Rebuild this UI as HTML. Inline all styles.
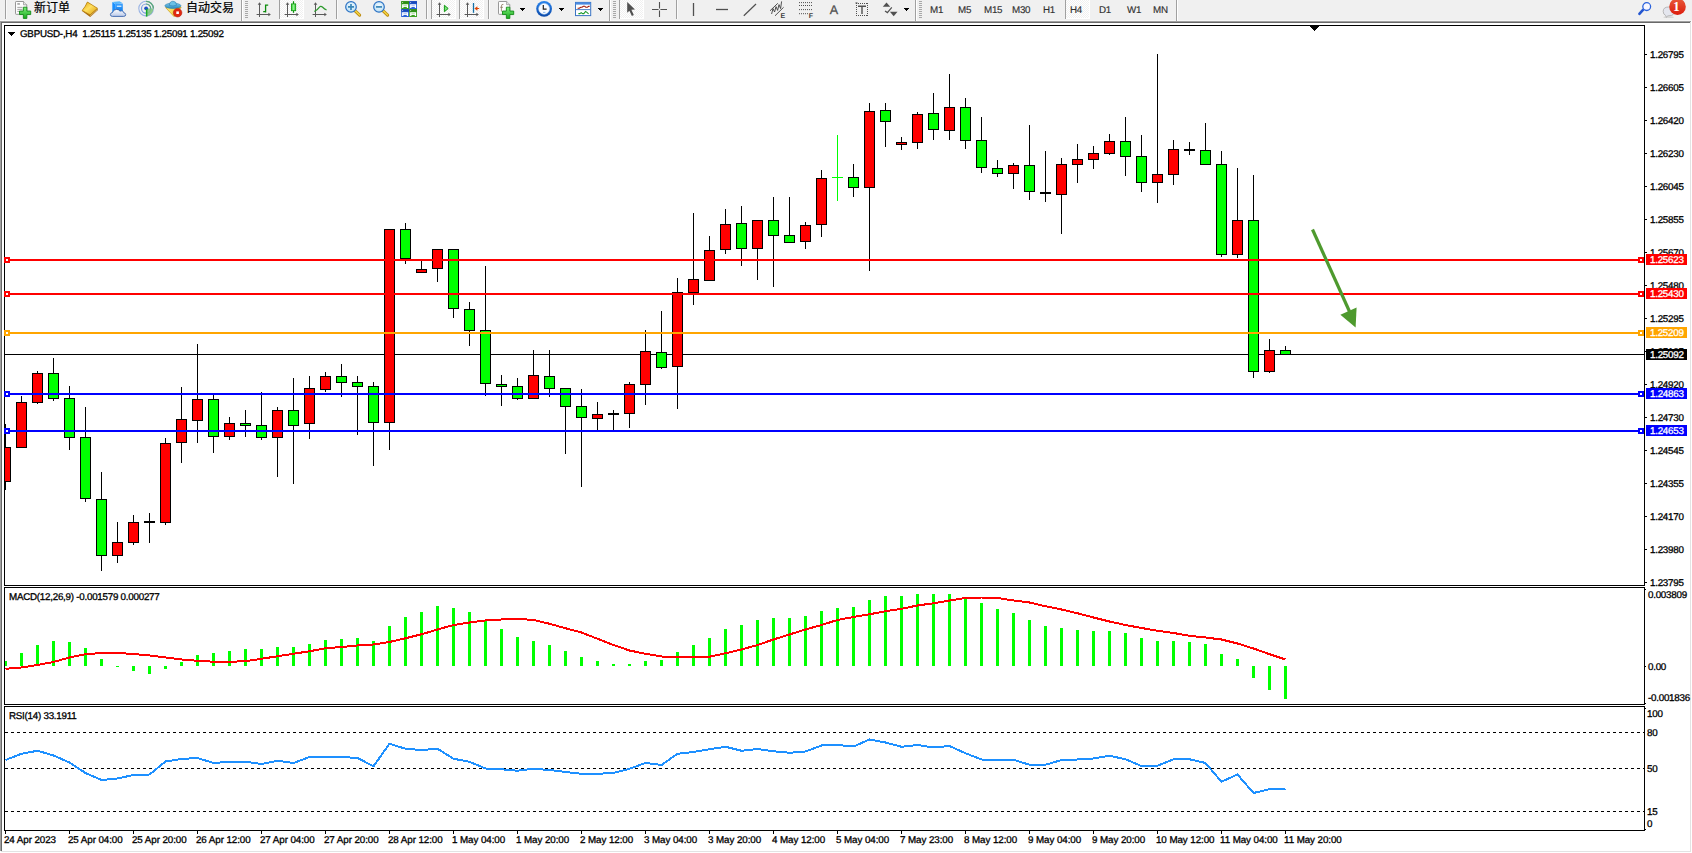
<!DOCTYPE html>
<html><head><meta charset="utf-8"><title>GBPUSD-,H4</title>
<style>
html,body{margin:0;padding:0;background:#fff;}
body{width:1692px;height:853px;position:relative;overflow:hidden;font-family:"Liberation Sans","Noto Sans CJK SC",sans-serif;}
#tb{position:absolute;left:0;top:0;width:1692px;height:21px;background:#f0f0f0;}
.t{position:absolute;white-space:nowrap;color:#000;font-size:9.8px;letter-spacing:-0.25px;text-rendering:geometricPrecision;-webkit-text-stroke:0.3px #000;line-height:11px;height:11px;}
.ax{position:absolute;left:1650px;white-space:nowrap;color:#000;font-size:9.8px;letter-spacing:-0.25px;text-rendering:geometricPrecision;-webkit-text-stroke:0.3px #000;line-height:11px;height:11px;}
.lb{position:absolute;left:1646px;width:41px;height:10px;padding-top:1px;color:#fff;font-size:9.8px;letter-spacing:-0.25px;text-rendering:geometricPrecision;-webkit-text-stroke:0.3px #fff;line-height:11px;white-space:nowrap;text-indent:4px;}
.tm{position:absolute;top:835px;white-space:nowrap;color:#000;font-size:9.8px;letter-spacing:-0.08px;text-rendering:geometricPrecision;-webkit-text-stroke:0.3px #000;line-height:11px;height:11px;}
.tf{position:absolute;top:5px;white-space:nowrap;color:#303030;font-size:9.8px;line-height:11px;height:11px;letter-spacing:-0.25px;text-rendering:geometricPrecision;-webkit-text-stroke:0.15px #303030;}
.ic{position:absolute;white-space:nowrap;color:#404040;font-size:7px;line-height:8px;height:8px;font-weight:bold;text-rendering:geometricPrecision;}
.ia{position:absolute;white-space:nowrap;color:#505050;-webkit-text-stroke:0.3px #505050;font-size:12.5px;line-height:14px;height:14px;text-rendering:geometricPrecision;}
.bd{position:absolute;white-space:nowrap;color:#fff;font-size:13.5px;line-height:13px;height:13px;font-weight:bold;font-family:"Liberation Serif",serif;text-rendering:geometricPrecision;}
.cn{position:absolute;top:0px;white-space:nowrap;color:#000;font-size:12px;-webkit-text-stroke:0.2px #000;line-height:16px;height:16px;font-family:"Liberation Sans","Noto Sans CJK SC",sans-serif;}
svg{position:absolute;left:0;top:0;}
</style></head><body>

<div id="tb"></div>
<div style="position:absolute;left:0;top:20px;width:1692px;height:1px;background:#f7f7f7"></div>
<div style="position:absolute;left:0;top:21px;width:1691px;height:1px;background:#a0a0a0"></div>
<div style="position:absolute;left:1px;top:22px;width:1689px;height:1px;background:#696969"></div>
<div style="position:absolute;left:0;top:21px;width:1px;height:830px;background:#a0a0a0"></div>
<div style="position:absolute;left:1px;top:22px;width:1px;height:829px;background:#696969"></div>
<div style="position:absolute;left:1690px;top:22px;width:1px;height:830px;background:#e3e3e3"></div>
<div style="position:absolute;left:1px;top:851px;width:1690px;height:1px;background:#e3e3e3"></div>
<svg width="1692" height="22" viewBox="0 0 1692 22" shape-rendering="crispEdges">
<defs><pattern id="ck" width="2" height="2" patternUnits="userSpaceOnUse"><rect width="2" height="2" fill="#ffffff"/><rect x="0" y="0" width="1" height="1" fill="#f0f0f0"/><rect x="1" y="1" width="1" height="1" fill="#f0f0f0"/></pattern></defs>
<rect x="280" y="0" width="24" height="19" fill="url(#ck)"/>
<rect x="279" y="0" width="1" height="19" fill="#a0a0a0"/>
<rect x="303" y="0" width="1" height="19" fill="#ffffff"/>
<rect x="280" y="18" width="24" height="1" fill="#ffffff"/>
<rect x="432" y="0" width="24" height="19" fill="url(#ck)"/>
<rect x="431" y="0" width="1" height="19" fill="#a0a0a0"/>
<rect x="455" y="0" width="1" height="19" fill="#ffffff"/>
<rect x="432" y="18" width="24" height="1" fill="#ffffff"/>
<rect x="460" y="0" width="24" height="19" fill="url(#ck)"/>
<rect x="459" y="0" width="1" height="19" fill="#a0a0a0"/>
<rect x="483" y="0" width="1" height="19" fill="#ffffff"/>
<rect x="460" y="18" width="24" height="1" fill="#ffffff"/>
<rect x="620" y="0" width="24" height="19" fill="url(#ck)"/>
<rect x="619" y="0" width="1" height="19" fill="#a0a0a0"/>
<rect x="643" y="0" width="1" height="19" fill="#ffffff"/>
<rect x="620" y="18" width="24" height="1" fill="#ffffff"/>
<rect x="1066" y="0" width="24" height="19" fill="url(#ck)"/>
<rect x="1065" y="0" width="1" height="19" fill="#a0a0a0"/>
<rect x="1089" y="0" width="1" height="19" fill="#ffffff"/>
<rect x="1066" y="18" width="24" height="1" fill="#ffffff"/>
<rect x="241" y="0" width="1" height="21" fill="#a0a0a0"/><rect x="242" y="0" width="1" height="21" fill="#ffffff"/>
<rect x="609" y="0" width="1" height="21" fill="#a0a0a0"/><rect x="610" y="0" width="1" height="21" fill="#ffffff"/>
<rect x="915" y="0" width="1" height="21" fill="#a0a0a0"/><rect x="916" y="0" width="1" height="21" fill="#ffffff"/>
<rect x="1176" y="0" width="1" height="21" fill="#a0a0a0"/><rect x="1177" y="0" width="1" height="21" fill="#ffffff"/>
<rect x="5" y="0" width="1" height="19" fill="#a0a0a0"/><rect x="6" y="0" width="1" height="19" fill="#fafafa"/>
<rect x="336" y="0" width="1" height="19" fill="#a0a0a0"/><rect x="337" y="0" width="1" height="19" fill="#fafafa"/>
<rect x="426" y="0" width="1" height="19" fill="#a0a0a0"/><rect x="427" y="0" width="1" height="19" fill="#fafafa"/>
<rect x="488" y="0" width="1" height="19" fill="#a0a0a0"/><rect x="489" y="0" width="1" height="19" fill="#fafafa"/>
<rect x="676" y="0" width="1" height="19" fill="#a0a0a0"/><rect x="677" y="0" width="1" height="19" fill="#fafafa"/>
<rect x="245" y="1" width="3" height="1" fill="#a8a8a8"/>
<rect x="245" y="3" width="3" height="1" fill="#a8a8a8"/>
<rect x="245" y="5" width="3" height="1" fill="#a8a8a8"/>
<rect x="245" y="7" width="3" height="1" fill="#a8a8a8"/>
<rect x="245" y="9" width="3" height="1" fill="#a8a8a8"/>
<rect x="245" y="11" width="3" height="1" fill="#a8a8a8"/>
<rect x="245" y="13" width="3" height="1" fill="#a8a8a8"/>
<rect x="245" y="15" width="3" height="1" fill="#a8a8a8"/>
<rect x="245" y="17" width="3" height="1" fill="#a8a8a8"/>
<rect x="613" y="1" width="3" height="1" fill="#a8a8a8"/>
<rect x="613" y="3" width="3" height="1" fill="#a8a8a8"/>
<rect x="613" y="5" width="3" height="1" fill="#a8a8a8"/>
<rect x="613" y="7" width="3" height="1" fill="#a8a8a8"/>
<rect x="613" y="9" width="3" height="1" fill="#a8a8a8"/>
<rect x="613" y="11" width="3" height="1" fill="#a8a8a8"/>
<rect x="613" y="13" width="3" height="1" fill="#a8a8a8"/>
<rect x="613" y="15" width="3" height="1" fill="#a8a8a8"/>
<rect x="613" y="17" width="3" height="1" fill="#a8a8a8"/>
<rect x="919" y="1" width="3" height="1" fill="#a8a8a8"/>
<rect x="919" y="3" width="3" height="1" fill="#a8a8a8"/>
<rect x="919" y="5" width="3" height="1" fill="#a8a8a8"/>
<rect x="919" y="7" width="3" height="1" fill="#a8a8a8"/>
<rect x="919" y="9" width="3" height="1" fill="#a8a8a8"/>
<rect x="919" y="11" width="3" height="1" fill="#a8a8a8"/>
<rect x="919" y="13" width="3" height="1" fill="#a8a8a8"/>
<rect x="919" y="15" width="3" height="1" fill="#a8a8a8"/>
<rect x="919" y="17" width="3" height="1" fill="#a8a8a8"/>
<rect x="520" y="8" width="5" height="1" fill="#000"/>
<rect x="521" y="9" width="3" height="1" fill="#000"/>
<rect x="522" y="10" width="1" height="1" fill="#000"/>
<rect x="559" y="8" width="5" height="1" fill="#000"/>
<rect x="560" y="9" width="3" height="1" fill="#000"/>
<rect x="561" y="10" width="1" height="1" fill="#000"/>
<rect x="598" y="8" width="5" height="1" fill="#000"/>
<rect x="599" y="9" width="3" height="1" fill="#000"/>
<rect x="600" y="10" width="1" height="1" fill="#000"/>
<rect x="904" y="8" width="5" height="1" fill="#000"/>
<rect x="905" y="9" width="3" height="1" fill="#000"/>
<rect x="906" y="10" width="1" height="1" fill="#000"/>
</svg>
<svg width="1692" height="22" viewBox="0 0 1692 22">
<defs>
<linearGradient id="gpl" x1="0" y1="0" x2="0" y2="1"><stop offset="0" stop-color="#7df07a"/><stop offset="1" stop-color="#18a81c"/></linearGradient>
<linearGradient id="ggold" x1="0" y1="0" x2="1" y2="1"><stop offset="0" stop-color="#e0a40c"/><stop offset="0.45" stop-color="#ffe060"/><stop offset="1" stop-color="#d89808"/></linearGradient>
<linearGradient id="gblue" x1="0" y1="0" x2="0" y2="1"><stop offset="0" stop-color="#3aa0ff"/><stop offset="1" stop-color="#0a78e8"/></linearGradient>
<linearGradient id="gcloud" x1="0" y1="0" x2="0" y2="1"><stop offset="0" stop-color="#ffffff"/><stop offset="1" stop-color="#b8c8e8"/></linearGradient>
<linearGradient id="gred" x1="0" y1="0" x2="0" y2="1"><stop offset="0" stop-color="#e85a3a"/><stop offset="1" stop-color="#dc1c0c"/></linearGradient>
<linearGradient id="ghat" x1="0" y1="0" x2="0" y2="1"><stop offset="0" stop-color="#7cc8e8"/><stop offset="1" stop-color="#2a8ac0"/></linearGradient>
<linearGradient id="gface" x1="0" y1="0" x2="1" y2="0"><stop offset="0" stop-color="#fff080"/><stop offset="1" stop-color="#e8b820"/></linearGradient>
<radialGradient id="glens" cx="0.5" cy="0.4" r="0.6"><stop offset="0" stop-color="#f4fbff"/><stop offset="1" stop-color="#b8def4"/></radialGradient>
<linearGradient id="gclk" x1="0" y1="0" x2="0" y2="1"><stop offset="0" stop-color="#2a86f0"/><stop offset="1" stop-color="#0a48a8"/></linearGradient>
<linearGradient id="gcan" x1="0" y1="0" x2="1" y2="0"><stop offset="0" stop-color="#30c030"/><stop offset="0.5" stop-color="#90f890"/><stop offset="1" stop-color="#30c030"/></linearGradient>
</defs>
<path d="M15.5,2.2Q15.5,1.5 16.2,1.5H23.5L26.8,4.8V13.6Q26.8,14.3 26.1,14.3H16.2Q15.5,14.3 15.5,13.6Z" fill="#fdfdfd" stroke="#8c8c8c" stroke-width="0.9"/>
<path d="M23.5,1.5V4.8H26.8" fill="#e6e6e6" stroke="#8c8c8c" stroke-width="0.7"/>
<rect x="17.3" y="3.2" width="2.6" height="1.5" fill="#9a9a9a"/>
<rect x="17.3" y="6.9" width="5.2" height="0.8" fill="#8e8e8e"/>
<rect x="17.3" y="8.9" width="5.2" height="0.8" fill="#8e8e8e"/>
<rect x="17.3" y="10.9" width="5.2" height="0.8" fill="#8e8e8e"/>
<path d="M23.35,7.200000000000001H26.85V11.05H30.700000000000003V14.55H26.85V18.4H23.35V14.55H19.5V11.05H23.35Z" fill="url(#gpl)" stroke="#138a16" stroke-width="0.9" stroke-linejoin="round"/>
<path d="M87.4,2Q85.6,6.4 82,10.9L90.2,17L98,9.9L97.4,8.4Z" fill="#a86a0c"/>
<path d="M87.4,2L97.5,8.3L90.1,14.9L82.2,10.4Q85.6,6.4 87.4,2Z" fill="url(#ggold)" stroke="#b47c0c" stroke-width="0.7" stroke-linejoin="round"/>
<path d="M97.4,9.5L90.2,15.9" stroke="#f0d890" stroke-width="0.7" fill="none"/>
<path d="M112.3,2L115.2,4V13H112.3Z" fill="#1a90ff"/>
<path d="M112.3,2L119.5,1.2L122.8,3.2L115.2,4Z" fill="#58b8ff"/>
<rect x="115.2" y="3.6" width="7.6" height="9.5" fill="url(#gblue)"/>
<rect x="116.8" y="5.6" width="4.6" height="1.3" fill="#d8eeff"/>
<path d="M112.4,16.4Q110.3,16.4 110.4,14.4Q110.5,12.7 112.6,12.4Q113.2,9.4 116.6,9.4Q119,9.4 120,11.2Q121,10.6 122.2,10.9Q123.8,11.4 123.8,12.8Q125.7,13 125.7,14.7Q125.7,16.4 123.6,16.4Z" fill="url(#gcloud)" stroke="#3a64ac" stroke-width="0.9"/>
<circle cx="146.1" cy="8.6" r="7.3" fill="none" stroke="#9ab4e4" stroke-width="1.1"/>
<circle cx="146.1" cy="8.6" r="4.6" fill="none" stroke="#7a9ce0" stroke-width="1.2"/>
<path d="M146.1,8.6L153.4,8.6A7.3,7.3 0 0 1 146.6,15.9Z" fill="#7cc47c" opacity="0.85"/>
<path d="M146.1,1.3A7.3,7.3 0 0 1 153.4,8.6" fill="none" stroke="#5aa878" stroke-width="1.3"/>
<path d="M146.1,4A4.6,4.6 0 0 1 150.7,8.6" fill="none" stroke="#5aa878" stroke-width="1.2"/>
<circle cx="146.1" cy="8.3" r="1.9" fill="#1c50c8"/>
<rect x="145.9" y="8.8" width="1.5" height="7.8" fill="#18a828"/>
<path d="M165.6,7.6L181.2,7.2L177.5,12L174.2,16.7Z" fill="url(#gface)" stroke="#c89810" stroke-width="0.7" stroke-linejoin="round"/>
<ellipse cx="172.9" cy="5.8" rx="8" ry="2.7" fill="url(#ghat)" stroke="#2a80b0" stroke-width="0.6"/>
<path d="M169.4,5.4Q169.6,1.2 173,1.2Q176.3,1.2 176.6,5.2Q173,6.6 169.4,5.4Z" fill="#6cc0e4" stroke="#2a80b0" stroke-width="0.6"/>
<circle cx="177.6" cy="12.7" r="4.3" fill="#e02810" stroke="#b01808" stroke-width="0.5"/>
<rect x="176.3" y="11.4" width="2.6" height="2.6" fill="#fff"/>
<path d="M259.5,3.4V17M256.6,14.5H269" stroke="#5a5a5a" stroke-width="1" fill="none"/>
<path d="M259.5,2.2L257.7,4.8H261.3Z" fill="#5a5a5a"/>
<path d="M270.8,14.5L268.4,12.7V16.3Z" fill="#5a5a5a"/>
<path d="M265.6,4.5V12.5M265.6,5.2H268.2M263.2,11.6H265.6" stroke="#0c8c0c" stroke-width="1.3" fill="none"/>
<path d="M287.5,3.4V17M284.6,14.5H297" stroke="#5a5a5a" stroke-width="1" fill="none"/>
<path d="M287.5,2.2L285.7,4.8H289.3Z" fill="#5a5a5a"/>
<path d="M298.8,14.5L296.4,12.7V16.3Z" fill="#5a5a5a"/>
<path d="M293.5,1.2V12.8" stroke="#0c8c0c" stroke-width="1.2"/>
<rect x="291.4" y="3.9" width="4.3" height="6.8" fill="url(#gcan)" stroke="#0c9c0c" stroke-width="0.8"/>
<path d="M315.5,3.4V17M312.6,14.5H325" stroke="#5a5a5a" stroke-width="1" fill="none"/>
<path d="M315.5,2.2L313.7,4.8H317.3Z" fill="#5a5a5a"/>
<path d="M326.8,14.5L324.4,12.7V16.3Z" fill="#5a5a5a"/>
<path d="M314.3,11.6Q317.5,9.8 319,7.6Q320.6,5.4 322.4,7Q324.5,9.2 326.6,10" stroke="#2c9a2c" stroke-width="1.2" fill="none"/>
<path d="M354.6,10.4L359.6,15.2" stroke="#b8860b" stroke-width="3.1" stroke-linecap="round"/>
<path d="M354.8,10.4L359.5,14.9" stroke="#f0d040" stroke-width="1.6" stroke-linecap="round"/>
<circle cx="351" cy="6.9" r="5.3" fill="url(#glens)" stroke="#2c72c4" stroke-width="1.2"/>
<path d="M348,6.9H354M351,3.9V9.9" stroke="#3a86b8" stroke-width="1.7"/>
<path d="M382.6,10.4L387.6,15.2" stroke="#b8860b" stroke-width="3.1" stroke-linecap="round"/>
<path d="M382.8,10.4L387.5,14.9" stroke="#f0d040" stroke-width="1.6" stroke-linecap="round"/>
<circle cx="379" cy="6.9" r="5.3" fill="url(#glens)" stroke="#2c72c4" stroke-width="1.2"/>
<path d="M376,6.9H382" stroke="#3a86b8" stroke-width="1.7"/>
<rect x="401.2" y="1.2" width="7.8" height="7.8" fill="#3aa020"/>
<rect x="401.2" y="1.2" width="7.8" height="2.4" fill="#2c8c14"/>
<path d="M402.09999999999997,8.1V4.3H408.09999999999997V8.1H406.8V7.1000000000000005H403.4V8.1Z" fill="#fff"/>
<rect x="403.4" y="5.4" width="3.4" height="0.8" fill="#3aa020" opacity="0.55"/>
<rect x="402.09999999999997" y="2.0" width="1" height="0.9" fill="#ffffff" opacity="0.7"/>
<rect x="409.2" y="1.2" width="7.8" height="7.8" fill="#2a62d8"/>
<rect x="409.2" y="1.2" width="7.8" height="2.4" fill="#1848b8"/>
<path d="M410.09999999999997,8.1V4.3H416.09999999999997V8.1H414.8V7.1000000000000005H411.4V8.1Z" fill="#fff"/>
<rect x="411.4" y="5.4" width="3.4" height="0.8" fill="#2a62d8" opacity="0.55"/>
<rect x="410.09999999999997" y="2.0" width="1" height="0.9" fill="#ffffff" opacity="0.7"/>
<rect x="401.2" y="9.2" width="7.8" height="7.8" fill="#2a62d8"/>
<rect x="401.2" y="9.2" width="7.8" height="2.4" fill="#1848b8"/>
<path d="M402.09999999999997,16.1V12.299999999999999H408.09999999999997V16.1H406.8V15.1H403.4V16.1Z" fill="#fff"/>
<rect x="403.4" y="13.399999999999999" width="3.4" height="0.8" fill="#2a62d8" opacity="0.55"/>
<rect x="402.09999999999997" y="10.0" width="1" height="0.9" fill="#ffffff" opacity="0.7"/>
<rect x="409.2" y="9.2" width="7.8" height="7.8" fill="#3aa020"/>
<rect x="409.2" y="9.2" width="7.8" height="2.4" fill="#2c8c14"/>
<path d="M410.09999999999997,16.1V12.299999999999999H416.09999999999997V16.1H414.8V15.1H411.4V16.1Z" fill="#fff"/>
<rect x="411.4" y="13.399999999999999" width="3.4" height="0.8" fill="#3aa020" opacity="0.55"/>
<rect x="410.09999999999997" y="10.0" width="1" height="0.9" fill="#ffffff" opacity="0.7"/>
<path d="M439.5,3.4V17M436.6,14.5H449" stroke="#5a5a5a" stroke-width="1" fill="none"/>
<path d="M439.5,2.2L437.7,4.8H441.3Z" fill="#5a5a5a"/>
<path d="M450.8,14.5L448.4,12.7V16.3Z" fill="#5a5a5a"/>
<path d="M444.4,5.3V11.7L448.2,8.5Z" fill="#7ae07a" stroke="#129a12" stroke-width="1"/>
<path d="M467.5,3.4V17M464.6,14.5H477" stroke="#5a5a5a" stroke-width="1" fill="none"/>
<path d="M467.5,2.2L465.7,4.8H469.3Z" fill="#5a5a5a"/>
<path d="M478.8,14.5L476.4,12.7V16.3Z" fill="#5a5a5a"/>
<path d="M473.5,3V12.8" stroke="#1470a8" stroke-width="1.3"/>
<path d="M474.4,8.5L477.4,6.2V7.9H479.2V9.1H477.4V10.8Z" fill="#e04808"/>
<path d="M498.5,2.2Q498.5,1.5 499.2,1.5H506.6L509.8,4.7V13.6Q509.8,14.3 509.1,14.3H499.2Q498.5,14.3 498.5,13.6Z" fill="#fdfdfd" stroke="#8c8c8c" stroke-width="0.9"/>
<path d="M506.6,1.5V4.7H509.8" fill="#e6e6e6" stroke="#8c8c8c" stroke-width="0.7"/>
<path d="M503.4,4.4Q501.4,4 501.4,6V11.5M500.2,7.3H503" stroke="#8a7a60" stroke-width="0.8" fill="none"/>
<path d="M506.35,7.200000000000001H509.85V11.05H513.7V14.55H509.85V18.4H506.35V14.55H502.5V11.05H506.35Z" fill="url(#gpl)" stroke="#138a16" stroke-width="0.9" stroke-linejoin="round"/>
<circle cx="544.1" cy="8.8" r="7.9" fill="url(#gclk)"/>
<circle cx="544.1" cy="8.8" r="5.4" fill="#f8fbff" stroke="#c8dcf0" stroke-width="0.6"/>
<path d="M543.3,5V9.2H546.6" stroke="#202020" stroke-width="1.2" fill="none"/>
<path d="M543,12.4H545.4" stroke="#6aa8f0" stroke-width="0.8"/>
<rect x="575.5" y="2.4" width="15.2" height="13.2" fill="#ffffff" stroke="#3a74c4" stroke-width="1"/>
<rect x="575.5" y="2.4" width="15.2" height="2.2" fill="#4a8ae0"/>
<path d="M576,9.6H590.5" stroke="#3a74c4" stroke-width="0.9"/>
<path d="M577.6,8.3H579.2L580.8,7.2H582L583.4,6.2H584.6L585.8,7.2H587.4L588.6,6.4H589.6" stroke="#a01808" stroke-width="1.1" fill="none"/>
<path d="M578.4,13.6H579.8L581.2,12.6L582.6,13.6H583.8L585.6,11.4L587.2,12.6L588.6,13.8" stroke="#189828" stroke-width="1.1" fill="none"/>
<path d="M627.2,2V12.7L629.4,10.7L631.9,15.9L633.8,15.1L631.4,9.8L635,9.6Z" fill="#505050"/>
<path d="M652,9.5H658.6M660.4,9.5H667M659.5,2V8.6M659.5,10.4V17" stroke="#505050" stroke-width="1.1" fill="none"/>
<path d="M693.5,3V16" stroke="#505050" stroke-width="1.3"/>
<path d="M716,9.5H728" stroke="#505050" stroke-width="1.3"/>
<path d="M743.8,15.8L756,4" stroke="#505050" stroke-width="1.2"/>
<path d="M770,10.8L777.8,3.3M775,15.8L783.6,7.3" stroke="#505050" stroke-width="1" fill="none"/>
<path d="M771.6,14L773,8.6L774.6,12L776,6.6L777.6,10.4L779,4.6L780.6,8.6L781.6,1.4" stroke="#404040" stroke-width="0.9" fill="none"/>
<path d="M799,2.6H812.4" stroke="#505050" stroke-width="1" stroke-dasharray="1 1"/>
<path d="M799,5.5H812.4" stroke="#505050" stroke-width="1" stroke-dasharray="1 1"/>
<path d="M799,9.6H812.4" stroke="#505050" stroke-width="1" stroke-dasharray="1 1"/>
<path d="M799,13.7H808" stroke="#505050" stroke-width="1" stroke-dasharray="1 1"/>
<path d="M856,3.5H868M856,15.5H868M856.5,3V16M867.5,3V16" fill="none" stroke="#505050" stroke-width="1" stroke-dasharray="1 1" shape-rendering="crispEdges"/>
<rect x="855.5" y="2.4" width="2" height="1.2" fill="#505050"/>
<path d="M858,6.3H866M862,6.3V14" stroke="#505050" stroke-width="1.4" fill="none"/>
<path d="M886.5,2.6L882.8,6.7H890.2Z" fill="#505050"/>
<path d="M893.7,16.3L889.9,11.7H897.5Z" fill="#505050"/>
<path d="M885,11L887.4,12.6L891.8,7.4" stroke="#505050" stroke-width="1.2" fill="none"/>
<path d="M1643,9.8L1639.4,13.8" stroke="#2456d0" stroke-width="2.6" stroke-linecap="round"/>
<circle cx="1646.7" cy="6.6" r="3.9" fill="#f6f6ff" stroke="#2a62dc" stroke-width="1.3"/>
<ellipse cx="1668.6" cy="17.2" rx="5.2" ry="0.9" fill="#000" opacity="0.10"/>
<path d="M1663.2,11.4Q1663.2,7 1668.6,7Q1674.4,7 1674.4,11.4Q1674.4,15.8 1668.8,15.8L1667.6,15.8L1666.4,17.4L1665.6,15.4Q1663.2,14.4 1663.2,11.4Z" fill="#e4e6ee" stroke="#a8a8a8" stroke-width="0.8"/>
<circle cx="1677.5" cy="6.7" r="8.3" fill="url(#gred)"/>
</svg>
<div class="cn" style="left:34px;top:0px;">新订单</div>
<div class="cn" style="left:186px;top:0px;">自动交易</div>
<div class="tf" style="left:930px">M1</div>
<div class="tf" style="left:958px">M5</div>
<div class="tf" style="left:984px">M15</div>
<div class="tf" style="left:1012px">M30</div>
<div class="tf" style="left:1043px">H1</div>
<div class="tf" style="left:1070px">H4</div>
<div class="tf" style="left:1099px">D1</div>
<div class="tf" style="left:1127px">W1</div>
<div class="tf" style="left:1153px">MN</div>
<div class="ic" style="left:780.5px;top:12.5px;">E</div>
<div class="ic" style="left:808.8px;top:12.5px;">F</div>
<div class="ia" style="left:829.7px;top:3px;">A</div>
<div class="bd" style="left:1673px;top:0px;">1</div>
<svg width="1692" height="853" viewBox="0 0 1692 853" shape-rendering="crispEdges">
<rect x="4.5" y="25.5" width="1640" height="560" fill="none" stroke="#000" stroke-width="1"/>
<rect x="4.5" y="587.5" width="1640" height="117" fill="none" stroke="#000" stroke-width="1"/>
<rect x="4.5" y="706.5" width="1640" height="124" fill="none" stroke="#000" stroke-width="1"/>
<rect x="1645" y="54" width="2" height="1" fill="#000"/>
<rect x="1645" y="87" width="2" height="1" fill="#000"/>
<rect x="1645" y="120" width="2" height="1" fill="#000"/>
<rect x="1645" y="153" width="2" height="1" fill="#000"/>
<rect x="1645" y="186" width="2" height="1" fill="#000"/>
<rect x="1645" y="219" width="2" height="1" fill="#000"/>
<rect x="1645" y="252" width="2" height="1" fill="#000"/>
<rect x="1645" y="285" width="2" height="1" fill="#000"/>
<rect x="1645" y="318" width="2" height="1" fill="#000"/>
<rect x="1645" y="351" width="2" height="1" fill="#000"/>
<rect x="1645" y="384" width="2" height="1" fill="#000"/>
<rect x="1645" y="417" width="2" height="1" fill="#000"/>
<rect x="1645" y="450" width="2" height="1" fill="#000"/>
<rect x="1645" y="483" width="2" height="1" fill="#000"/>
<rect x="1645" y="516" width="2" height="1" fill="#000"/>
<rect x="1645" y="549" width="2" height="1" fill="#000"/>
<rect x="1645" y="582" width="2" height="1" fill="#000"/>
<rect x="1645" y="589" width="1" height="1" fill="#000"/>
<rect x="1645" y="666" width="1" height="1" fill="#000"/>
<rect x="1645" y="703" width="1" height="1" fill="#000"/>
<rect x="1645" y="708" width="1" height="1" fill="#000"/>
<rect x="1645" y="829" width="1" height="1" fill="#000"/>
<rect x="1310" y="26" width="9" height="1" fill="#000"/>
<rect x="1311" y="27" width="7" height="1" fill="#000"/>
<rect x="1312" y="28" width="5" height="1" fill="#000"/>
<rect x="1313" y="29" width="3" height="1" fill="#000"/>
<rect x="1314" y="30" width="1" height="1" fill="#000"/>
<rect x="8" y="32" width="7" height="1" fill="#000"/>
<rect x="9" y="33" width="5" height="1" fill="#000"/>
<rect x="10" y="34" width="3" height="1" fill="#000"/>
<rect x="11" y="35" width="1" height="1" fill="#000"/>
<rect x="5" y="354" width="1639" height="1" fill="#000"/>
<rect x="5" y="424" width="1" height="66" fill="#000"/>
<rect x="5" y="447" width="6" height="35" fill="#000"/>
<rect x="5" y="448" width="5" height="33" fill="#ff0000"/>
<rect x="21" y="396" width="1" height="52" fill="#000"/>
<rect x="16" y="402" width="11" height="46" fill="#000"/>
<rect x="17" y="403" width="9" height="44" fill="#ff0000"/>
<rect x="37" y="371" width="1" height="33" fill="#000"/>
<rect x="32" y="373" width="11" height="30" fill="#000"/>
<rect x="33" y="374" width="9" height="28" fill="#ff0000"/>
<rect x="53" y="358" width="1" height="43" fill="#000"/>
<rect x="48" y="373" width="11" height="26" fill="#000"/>
<rect x="49" y="374" width="9" height="24" fill="#00ff00"/>
<rect x="69" y="386" width="1" height="64" fill="#000"/>
<rect x="64" y="398" width="11" height="40" fill="#000"/>
<rect x="65" y="399" width="9" height="38" fill="#00ff00"/>
<rect x="85" y="407" width="1" height="95" fill="#000"/>
<rect x="80" y="437" width="11" height="62" fill="#000"/>
<rect x="81" y="438" width="9" height="60" fill="#00ff00"/>
<rect x="101" y="472" width="1" height="99" fill="#000"/>
<rect x="96" y="499" width="11" height="57" fill="#000"/>
<rect x="97" y="500" width="9" height="55" fill="#00ff00"/>
<rect x="117" y="522" width="1" height="41" fill="#000"/>
<rect x="112" y="542" width="11" height="14" fill="#000"/>
<rect x="113" y="543" width="9" height="12" fill="#ff0000"/>
<rect x="133" y="515" width="1" height="30" fill="#000"/>
<rect x="128" y="522" width="11" height="21" fill="#000"/>
<rect x="129" y="523" width="9" height="19" fill="#ff0000"/>
<rect x="149" y="513" width="1" height="30" fill="#000"/>
<rect x="144" y="521" width="11" height="2" fill="#000"/>
<rect x="165" y="438" width="1" height="87" fill="#000"/>
<rect x="160" y="443" width="11" height="80" fill="#000"/>
<rect x="161" y="444" width="9" height="78" fill="#ff0000"/>
<rect x="181" y="387" width="1" height="76" fill="#000"/>
<rect x="176" y="419" width="11" height="24" fill="#000"/>
<rect x="177" y="420" width="9" height="22" fill="#ff0000"/>
<rect x="197" y="344" width="1" height="99" fill="#000"/>
<rect x="192" y="399" width="11" height="22" fill="#000"/>
<rect x="193" y="400" width="9" height="20" fill="#ff0000"/>
<rect x="213" y="395" width="1" height="58" fill="#000"/>
<rect x="208" y="399" width="11" height="38" fill="#000"/>
<rect x="209" y="400" width="9" height="36" fill="#00ff00"/>
<rect x="229" y="417" width="1" height="23" fill="#000"/>
<rect x="224" y="423" width="11" height="14" fill="#000"/>
<rect x="225" y="424" width="9" height="12" fill="#ff0000"/>
<rect x="245" y="410" width="1" height="27" fill="#000"/>
<rect x="240" y="423" width="11" height="3" fill="#000"/>
<rect x="241" y="424" width="9" height="1" fill="#00ff00"/>
<rect x="261" y="392" width="1" height="48" fill="#000"/>
<rect x="256" y="425" width="11" height="13" fill="#000"/>
<rect x="257" y="426" width="9" height="11" fill="#00ff00"/>
<rect x="277" y="407" width="1" height="70" fill="#000"/>
<rect x="272" y="410" width="11" height="28" fill="#000"/>
<rect x="273" y="411" width="9" height="26" fill="#ff0000"/>
<rect x="293" y="378" width="1" height="106" fill="#000"/>
<rect x="288" y="410" width="11" height="16" fill="#000"/>
<rect x="289" y="411" width="9" height="14" fill="#00ff00"/>
<rect x="309" y="376" width="1" height="63" fill="#000"/>
<rect x="304" y="388" width="11" height="36" fill="#000"/>
<rect x="305" y="389" width="9" height="34" fill="#ff0000"/>
<rect x="325" y="372" width="1" height="20" fill="#000"/>
<rect x="320" y="376" width="11" height="14" fill="#000"/>
<rect x="321" y="377" width="9" height="12" fill="#ff0000"/>
<rect x="341" y="364" width="1" height="33" fill="#000"/>
<rect x="336" y="376" width="11" height="7" fill="#000"/>
<rect x="337" y="377" width="9" height="5" fill="#00ff00"/>
<rect x="357" y="376" width="1" height="59" fill="#000"/>
<rect x="352" y="382" width="11" height="5" fill="#000"/>
<rect x="353" y="383" width="9" height="3" fill="#00ff00"/>
<rect x="373" y="382" width="1" height="84" fill="#000"/>
<rect x="368" y="386" width="11" height="37" fill="#000"/>
<rect x="369" y="387" width="9" height="35" fill="#00ff00"/>
<rect x="389" y="229" width="1" height="221" fill="#000"/>
<rect x="384" y="229" width="11" height="194" fill="#000"/>
<rect x="385" y="230" width="9" height="192" fill="#ff0000"/>
<rect x="405" y="223" width="1" height="41" fill="#000"/>
<rect x="400" y="229" width="11" height="30" fill="#000"/>
<rect x="401" y="230" width="9" height="28" fill="#00ff00"/>
<rect x="421" y="261" width="1" height="12" fill="#000"/>
<rect x="416" y="269" width="11" height="4" fill="#000"/>
<rect x="417" y="270" width="9" height="2" fill="#ff0000"/>
<rect x="437" y="249" width="1" height="33" fill="#000"/>
<rect x="432" y="249" width="11" height="20" fill="#000"/>
<rect x="433" y="250" width="9" height="18" fill="#ff0000"/>
<rect x="453" y="249" width="1" height="69" fill="#000"/>
<rect x="448" y="249" width="11" height="60" fill="#000"/>
<rect x="449" y="250" width="9" height="58" fill="#00ff00"/>
<rect x="469" y="302" width="1" height="44" fill="#000"/>
<rect x="464" y="309" width="11" height="22" fill="#000"/>
<rect x="465" y="310" width="9" height="20" fill="#00ff00"/>
<rect x="485" y="266" width="1" height="130" fill="#000"/>
<rect x="480" y="330" width="11" height="54" fill="#000"/>
<rect x="481" y="331" width="9" height="52" fill="#00ff00"/>
<rect x="501" y="375" width="1" height="31" fill="#000"/>
<rect x="496" y="384" width="11" height="3" fill="#000"/>
<rect x="497" y="385" width="9" height="1" fill="#00ff00"/>
<rect x="517" y="378" width="1" height="22" fill="#000"/>
<rect x="512" y="386" width="11" height="13" fill="#000"/>
<rect x="513" y="387" width="9" height="11" fill="#00ff00"/>
<rect x="533" y="350" width="1" height="49" fill="#000"/>
<rect x="528" y="375" width="11" height="24" fill="#000"/>
<rect x="529" y="376" width="9" height="22" fill="#ff0000"/>
<rect x="549" y="350" width="1" height="47" fill="#000"/>
<rect x="544" y="376" width="11" height="13" fill="#000"/>
<rect x="545" y="377" width="9" height="11" fill="#00ff00"/>
<rect x="565" y="388" width="1" height="66" fill="#000"/>
<rect x="560" y="388" width="11" height="19" fill="#000"/>
<rect x="561" y="389" width="9" height="17" fill="#00ff00"/>
<rect x="581" y="389" width="1" height="98" fill="#000"/>
<rect x="576" y="406" width="11" height="12" fill="#000"/>
<rect x="577" y="407" width="9" height="10" fill="#00ff00"/>
<rect x="597" y="402" width="1" height="29" fill="#000"/>
<rect x="592" y="414" width="11" height="5" fill="#000"/>
<rect x="593" y="415" width="9" height="3" fill="#ff0000"/>
<rect x="613" y="410" width="1" height="21" fill="#000"/>
<rect x="608" y="413" width="11" height="2" fill="#000"/>
<rect x="629" y="382" width="1" height="46" fill="#000"/>
<rect x="624" y="384" width="11" height="30" fill="#000"/>
<rect x="625" y="385" width="9" height="28" fill="#ff0000"/>
<rect x="645" y="330" width="1" height="75" fill="#000"/>
<rect x="640" y="351" width="11" height="34" fill="#000"/>
<rect x="641" y="352" width="9" height="32" fill="#ff0000"/>
<rect x="661" y="311" width="1" height="58" fill="#000"/>
<rect x="656" y="352" width="11" height="16" fill="#000"/>
<rect x="657" y="353" width="9" height="14" fill="#00ff00"/>
<rect x="677" y="278" width="1" height="131" fill="#000"/>
<rect x="672" y="292" width="11" height="75" fill="#000"/>
<rect x="673" y="293" width="9" height="73" fill="#ff0000"/>
<rect x="693" y="213" width="1" height="92" fill="#000"/>
<rect x="688" y="279" width="11" height="14" fill="#000"/>
<rect x="689" y="280" width="9" height="12" fill="#ff0000"/>
<rect x="709" y="236" width="1" height="45" fill="#000"/>
<rect x="704" y="250" width="11" height="31" fill="#000"/>
<rect x="705" y="251" width="9" height="29" fill="#ff0000"/>
<rect x="725" y="209" width="1" height="45" fill="#000"/>
<rect x="720" y="224" width="11" height="26" fill="#000"/>
<rect x="721" y="225" width="9" height="24" fill="#ff0000"/>
<rect x="741" y="206" width="1" height="60" fill="#000"/>
<rect x="736" y="223" width="11" height="26" fill="#000"/>
<rect x="737" y="224" width="9" height="24" fill="#00ff00"/>
<rect x="757" y="220" width="1" height="60" fill="#000"/>
<rect x="752" y="220" width="11" height="29" fill="#000"/>
<rect x="753" y="221" width="9" height="27" fill="#ff0000"/>
<rect x="773" y="197" width="1" height="90" fill="#000"/>
<rect x="768" y="220" width="11" height="16" fill="#000"/>
<rect x="769" y="221" width="9" height="14" fill="#00ff00"/>
<rect x="789" y="197" width="1" height="46" fill="#000"/>
<rect x="784" y="235" width="11" height="8" fill="#000"/>
<rect x="785" y="236" width="9" height="6" fill="#00ff00"/>
<rect x="805" y="222" width="1" height="27" fill="#000"/>
<rect x="800" y="225" width="11" height="17" fill="#000"/>
<rect x="801" y="226" width="9" height="15" fill="#ff0000"/>
<rect x="821" y="170" width="1" height="67" fill="#000"/>
<rect x="816" y="178" width="11" height="47" fill="#000"/>
<rect x="817" y="179" width="9" height="45" fill="#ff0000"/>
<rect x="837" y="135" width="1" height="66" fill="#00ff00"/>
<rect x="832" y="177" width="11" height="1" fill="#00ff00"/>
<rect x="853" y="164" width="1" height="33" fill="#000"/>
<rect x="848" y="177" width="11" height="11" fill="#000"/>
<rect x="849" y="178" width="9" height="9" fill="#00ff00"/>
<rect x="869" y="103" width="1" height="168" fill="#000"/>
<rect x="864" y="111" width="11" height="77" fill="#000"/>
<rect x="865" y="112" width="9" height="75" fill="#ff0000"/>
<rect x="885" y="103" width="1" height="44" fill="#000"/>
<rect x="880" y="110" width="11" height="12" fill="#000"/>
<rect x="881" y="111" width="9" height="10" fill="#00ff00"/>
<rect x="901" y="137" width="1" height="13" fill="#000"/>
<rect x="896" y="142" width="11" height="3" fill="#000"/>
<rect x="897" y="143" width="9" height="1" fill="#ff0000"/>
<rect x="917" y="112" width="1" height="37" fill="#000"/>
<rect x="912" y="114" width="11" height="29" fill="#000"/>
<rect x="913" y="115" width="9" height="27" fill="#ff0000"/>
<rect x="933" y="93" width="1" height="47" fill="#000"/>
<rect x="928" y="113" width="11" height="17" fill="#000"/>
<rect x="929" y="114" width="9" height="15" fill="#00ff00"/>
<rect x="949" y="74" width="1" height="66" fill="#000"/>
<rect x="944" y="107" width="11" height="24" fill="#000"/>
<rect x="945" y="108" width="9" height="22" fill="#ff0000"/>
<rect x="965" y="98" width="1" height="51" fill="#000"/>
<rect x="960" y="107" width="11" height="34" fill="#000"/>
<rect x="961" y="108" width="9" height="32" fill="#00ff00"/>
<rect x="981" y="117" width="1" height="56" fill="#000"/>
<rect x="976" y="140" width="11" height="28" fill="#000"/>
<rect x="977" y="141" width="9" height="26" fill="#00ff00"/>
<rect x="997" y="160" width="1" height="17" fill="#000"/>
<rect x="992" y="168" width="11" height="6" fill="#000"/>
<rect x="993" y="169" width="9" height="4" fill="#00ff00"/>
<rect x="1013" y="163" width="1" height="26" fill="#000"/>
<rect x="1008" y="165" width="11" height="9" fill="#000"/>
<rect x="1009" y="166" width="9" height="7" fill="#ff0000"/>
<rect x="1029" y="125" width="1" height="75" fill="#000"/>
<rect x="1024" y="165" width="11" height="27" fill="#000"/>
<rect x="1025" y="166" width="9" height="25" fill="#00ff00"/>
<rect x="1045" y="151" width="1" height="51" fill="#000"/>
<rect x="1040" y="192" width="11" height="2" fill="#000"/>
<rect x="1061" y="158" width="1" height="76" fill="#000"/>
<rect x="1056" y="164" width="11" height="31" fill="#000"/>
<rect x="1057" y="165" width="9" height="29" fill="#ff0000"/>
<rect x="1077" y="144" width="1" height="39" fill="#000"/>
<rect x="1072" y="159" width="11" height="6" fill="#000"/>
<rect x="1073" y="160" width="9" height="4" fill="#ff0000"/>
<rect x="1093" y="146" width="1" height="23" fill="#000"/>
<rect x="1088" y="153" width="11" height="7" fill="#000"/>
<rect x="1089" y="154" width="9" height="5" fill="#ff0000"/>
<rect x="1109" y="134" width="1" height="21" fill="#000"/>
<rect x="1104" y="141" width="11" height="13" fill="#000"/>
<rect x="1105" y="142" width="9" height="11" fill="#ff0000"/>
<rect x="1125" y="117" width="1" height="59" fill="#000"/>
<rect x="1120" y="141" width="11" height="16" fill="#000"/>
<rect x="1121" y="142" width="9" height="14" fill="#00ff00"/>
<rect x="1141" y="135" width="1" height="57" fill="#000"/>
<rect x="1136" y="156" width="11" height="27" fill="#000"/>
<rect x="1137" y="157" width="9" height="25" fill="#00ff00"/>
<rect x="1157" y="54" width="1" height="149" fill="#000"/>
<rect x="1152" y="174" width="11" height="9" fill="#000"/>
<rect x="1153" y="175" width="9" height="7" fill="#ff0000"/>
<rect x="1173" y="140" width="1" height="45" fill="#000"/>
<rect x="1168" y="149" width="11" height="26" fill="#000"/>
<rect x="1169" y="150" width="9" height="24" fill="#ff0000"/>
<rect x="1189" y="142" width="1" height="13" fill="#000"/>
<rect x="1184" y="149" width="11" height="2" fill="#000"/>
<rect x="1205" y="123" width="1" height="42" fill="#000"/>
<rect x="1200" y="150" width="11" height="15" fill="#000"/>
<rect x="1201" y="151" width="9" height="13" fill="#00ff00"/>
<rect x="1221" y="151" width="1" height="106" fill="#000"/>
<rect x="1216" y="164" width="11" height="91" fill="#000"/>
<rect x="1217" y="165" width="9" height="89" fill="#00ff00"/>
<rect x="1237" y="168" width="1" height="90" fill="#000"/>
<rect x="1232" y="220" width="11" height="35" fill="#000"/>
<rect x="1233" y="221" width="9" height="33" fill="#ff0000"/>
<rect x="1253" y="175" width="1" height="203" fill="#000"/>
<rect x="1248" y="220" width="11" height="152" fill="#000"/>
<rect x="1249" y="221" width="9" height="150" fill="#00ff00"/>
<rect x="1269" y="339" width="1" height="34" fill="#000"/>
<rect x="1264" y="350" width="11" height="22" fill="#000"/>
<rect x="1265" y="351" width="9" height="20" fill="#ff0000"/>
<rect x="1285" y="346" width="1" height="9" fill="#000"/>
<rect x="1280" y="350" width="11" height="5" fill="#000"/>
<rect x="1281" y="351" width="9" height="3" fill="#00ff00"/>
<rect x="5" y="259" width="1639" height="2" fill="#ff0000"/>
<rect x="4" y="257" width="6" height="6" fill="#ff0000"/><rect x="6" y="259" width="2" height="2" fill="#fff"/>
<rect x="1638" y="257" width="6" height="6" fill="#ff0000"/><rect x="1640" y="259" width="2" height="2" fill="#fff"/>
<rect x="5" y="293" width="1639" height="2" fill="#ff0000"/>
<rect x="4" y="291" width="6" height="6" fill="#ff0000"/><rect x="6" y="293" width="2" height="2" fill="#fff"/>
<rect x="1638" y="291" width="6" height="6" fill="#ff0000"/><rect x="1640" y="293" width="2" height="2" fill="#fff"/>
<rect x="5" y="332" width="1639" height="2" fill="#ffa500"/>
<rect x="4" y="330" width="6" height="6" fill="#ffa500"/><rect x="6" y="332" width="2" height="2" fill="#fff"/>
<rect x="1638" y="330" width="6" height="6" fill="#ffa500"/><rect x="1640" y="332" width="2" height="2" fill="#fff"/>
<rect x="5" y="393" width="1639" height="2" fill="#0000ff"/>
<rect x="4" y="391" width="6" height="6" fill="#0000ff"/><rect x="6" y="393" width="2" height="2" fill="#fff"/>
<rect x="1638" y="391" width="6" height="6" fill="#0000ff"/><rect x="1640" y="393" width="2" height="2" fill="#fff"/>
<rect x="5" y="430" width="1639" height="2" fill="#0000ff"/>
<rect x="4" y="428" width="6" height="6" fill="#0000ff"/><rect x="6" y="430" width="2" height="2" fill="#fff"/>
<rect x="1638" y="428" width="6" height="6" fill="#0000ff"/><rect x="1640" y="430" width="2" height="2" fill="#fff"/>
<rect x="5" y="661" width="2" height="5" fill="#00ff00"/>
<rect x="20" y="653" width="3" height="13" fill="#00ff00"/>
<rect x="36" y="645" width="3" height="21" fill="#00ff00"/>
<rect x="52" y="641" width="3" height="25" fill="#00ff00"/>
<rect x="68" y="642" width="3" height="24" fill="#00ff00"/>
<rect x="84" y="648" width="3" height="18" fill="#00ff00"/>
<rect x="100" y="659" width="3" height="7" fill="#00ff00"/>
<rect x="116" y="666" width="3" height="1" fill="#00ff00"/>
<rect x="132" y="666" width="3" height="5" fill="#00ff00"/>
<rect x="148" y="666" width="3" height="8" fill="#00ff00"/>
<rect x="164" y="666" width="3" height="3" fill="#00ff00"/>
<rect x="180" y="662" width="3" height="4" fill="#00ff00"/>
<rect x="196" y="655" width="3" height="11" fill="#00ff00"/>
<rect x="212" y="653" width="3" height="13" fill="#00ff00"/>
<rect x="228" y="651" width="3" height="15" fill="#00ff00"/>
<rect x="244" y="649" width="3" height="17" fill="#00ff00"/>
<rect x="260" y="649" width="3" height="17" fill="#00ff00"/>
<rect x="276" y="647" width="3" height="19" fill="#00ff00"/>
<rect x="292" y="647" width="3" height="19" fill="#00ff00"/>
<rect x="308" y="644" width="3" height="22" fill="#00ff00"/>
<rect x="324" y="640" width="3" height="26" fill="#00ff00"/>
<rect x="340" y="639" width="3" height="27" fill="#00ff00"/>
<rect x="356" y="638" width="3" height="28" fill="#00ff00"/>
<rect x="372" y="641" width="3" height="25" fill="#00ff00"/>
<rect x="388" y="626" width="3" height="40" fill="#00ff00"/>
<rect x="404" y="617" width="3" height="49" fill="#00ff00"/>
<rect x="420" y="612" width="3" height="54" fill="#00ff00"/>
<rect x="436" y="606" width="3" height="60" fill="#00ff00"/>
<rect x="452" y="608" width="3" height="58" fill="#00ff00"/>
<rect x="468" y="612" width="3" height="54" fill="#00ff00"/>
<rect x="484" y="621" width="3" height="45" fill="#00ff00"/>
<rect x="500" y="629" width="3" height="37" fill="#00ff00"/>
<rect x="516" y="637" width="3" height="29" fill="#00ff00"/>
<rect x="532" y="641" width="3" height="25" fill="#00ff00"/>
<rect x="548" y="645" width="3" height="21" fill="#00ff00"/>
<rect x="564" y="651" width="3" height="15" fill="#00ff00"/>
<rect x="580" y="657" width="3" height="9" fill="#00ff00"/>
<rect x="596" y="661" width="3" height="5" fill="#00ff00"/>
<rect x="612" y="664" width="3" height="2" fill="#00ff00"/>
<rect x="628" y="664" width="3" height="2" fill="#00ff00"/>
<rect x="644" y="661" width="3" height="5" fill="#00ff00"/>
<rect x="660" y="660" width="3" height="6" fill="#00ff00"/>
<rect x="676" y="652" width="3" height="14" fill="#00ff00"/>
<rect x="692" y="645" width="3" height="21" fill="#00ff00"/>
<rect x="708" y="638" width="3" height="28" fill="#00ff00"/>
<rect x="724" y="629" width="3" height="37" fill="#00ff00"/>
<rect x="740" y="625" width="3" height="41" fill="#00ff00"/>
<rect x="756" y="620" width="3" height="46" fill="#00ff00"/>
<rect x="772" y="618" width="3" height="48" fill="#00ff00"/>
<rect x="788" y="618" width="3" height="48" fill="#00ff00"/>
<rect x="804" y="616" width="3" height="50" fill="#00ff00"/>
<rect x="820" y="611" width="3" height="55" fill="#00ff00"/>
<rect x="836" y="608" width="3" height="58" fill="#00ff00"/>
<rect x="852" y="607" width="3" height="59" fill="#00ff00"/>
<rect x="868" y="600" width="3" height="66" fill="#00ff00"/>
<rect x="884" y="596" width="3" height="70" fill="#00ff00"/>
<rect x="900" y="596" width="3" height="70" fill="#00ff00"/>
<rect x="916" y="594" width="3" height="72" fill="#00ff00"/>
<rect x="932" y="594" width="3" height="72" fill="#00ff00"/>
<rect x="948" y="594" width="3" height="72" fill="#00ff00"/>
<rect x="964" y="597" width="3" height="69" fill="#00ff00"/>
<rect x="980" y="603" width="3" height="63" fill="#00ff00"/>
<rect x="996" y="609" width="3" height="57" fill="#00ff00"/>
<rect x="1012" y="613" width="3" height="53" fill="#00ff00"/>
<rect x="1028" y="620" width="3" height="46" fill="#00ff00"/>
<rect x="1044" y="626" width="3" height="40" fill="#00ff00"/>
<rect x="1060" y="628" width="3" height="38" fill="#00ff00"/>
<rect x="1076" y="630" width="3" height="36" fill="#00ff00"/>
<rect x="1092" y="631" width="3" height="35" fill="#00ff00"/>
<rect x="1108" y="631" width="3" height="35" fill="#00ff00"/>
<rect x="1124" y="633" width="3" height="33" fill="#00ff00"/>
<rect x="1140" y="638" width="3" height="28" fill="#00ff00"/>
<rect x="1156" y="641" width="3" height="25" fill="#00ff00"/>
<rect x="1172" y="641" width="3" height="25" fill="#00ff00"/>
<rect x="1188" y="642" width="3" height="24" fill="#00ff00"/>
<rect x="1204" y="644" width="3" height="22" fill="#00ff00"/>
<rect x="1220" y="654" width="3" height="12" fill="#00ff00"/>
<rect x="1236" y="659" width="3" height="7" fill="#00ff00"/>
<rect x="1252" y="666" width="3" height="12" fill="#00ff00"/>
<rect x="1268" y="666" width="3" height="24" fill="#00ff00"/>
<rect x="1284" y="666" width="3" height="33" fill="#00ff00"/>
<polyline points="5.5,668.75 21.5,667.50 37.5,665.00 53.5,662.00 69.5,657.50 85.5,654.25 101.5,653.00 117.5,653.00 133.5,654.00 149.5,655.50 165.5,657.50 181.5,659.50 197.5,660.75 213.5,661.75 229.5,661.75 245.5,661.25 261.5,658.75 277.5,656.25 293.5,653.75 309.5,651.25 325.5,648.25 341.5,647.00 357.5,645.50 373.5,644.50 389.5,642.00 405.5,638.25 421.5,634.25 437.5,629.50 453.5,625.00 469.5,622.50 485.5,620.50 501.5,619.50 517.5,618.75 533.5,620.00 549.5,623.75 565.5,628.25 581.5,632.50 597.5,638.75 613.5,645.00 629.5,650.50 645.5,653.75 661.5,656.50 677.5,657.00 693.5,657.00 709.5,656.75 725.5,653.25 741.5,649.50 757.5,645.00 773.5,639.50 789.5,634.50 805.5,629.50 821.5,625.00 837.5,620.00 853.5,617.00 869.5,614.25 885.5,611.25 901.5,608.75 917.5,605.50 933.5,603.25 949.5,600.50 965.5,598.00 981.5,597.50 997.5,598.00 1013.5,600.50 1029.5,602.50 1045.5,606.25 1061.5,609.50 1077.5,613.25 1093.5,617.50 1109.5,621.50 1125.5,625.00 1141.5,628.00 1157.5,630.75 1173.5,633.00 1189.5,635.75 1205.5,637.50 1221.5,639.50 1237.5,643.50 1253.5,648.50 1269.5,654.20 1285.5,659.50" fill="none" stroke="#ff0000" stroke-width="2" stroke-linejoin="round"/>
<line x1="5" y1="732.5" x2="1644" y2="732.5" stroke="#000" stroke-width="1" stroke-dasharray="3 3"/>
<line x1="5" y1="768.5" x2="1644" y2="768.5" stroke="#000" stroke-width="1" stroke-dasharray="3 3"/>
<line x1="5" y1="811.5" x2="1644" y2="811.5" stroke="#000" stroke-width="1" stroke-dasharray="3 3"/>
<polyline points="5.5,760.00 21.5,753.75 37.5,750.75 53.5,755.50 69.5,762.50 85.5,773.00 101.5,780.00 117.5,778.50 133.5,775.00 149.5,774.50 165.5,761.50 181.5,759.00 197.5,758.00 213.5,763.00 229.5,761.75 245.5,761.75 261.5,764.00 277.5,760.75 293.5,763.00 309.5,757.00 325.5,757.00 341.5,757.00 357.5,758.00 373.5,766.25 389.5,743.75 405.5,748.75 421.5,750.00 437.5,748.75 453.5,758.75 469.5,761.75 485.5,768.50 501.5,769.25 517.5,770.75 533.5,768.75 549.5,770.00 565.5,772.00 581.5,773.75 597.5,773.75 613.5,773.00 629.5,768.75 645.5,763.00 661.5,765.00 677.5,753.75 693.5,752.00 709.5,749.25 725.5,746.75 741.5,750.75 757.5,749.00 773.5,751.25 789.5,752.75 805.5,751.50 821.5,745.50 837.5,745.00 853.5,746.50 869.5,739.50 885.5,742.50 901.5,746.75 917.5,745.00 933.5,747.50 949.5,746.00 965.5,753.25 981.5,759.50 997.5,759.75 1013.5,759.75 1029.5,764.75 1045.5,764.75 1061.5,760.00 1077.5,759.50 1093.5,758.50 1109.5,755.75 1125.5,759.25 1141.5,766.00 1157.5,765.75 1173.5,759.25 1189.5,759.25 1205.5,763.00 1221.5,781.75 1237.5,774.50 1253.5,793.00 1269.5,789.20 1285.5,788.75" fill="none" stroke="#1e90ff" stroke-width="2" stroke-linejoin="round"/>
<rect x="5" y="831" width="1" height="3" fill="#000"/>
<rect x="69" y="831" width="1" height="3" fill="#000"/>
<rect x="133" y="831" width="1" height="3" fill="#000"/>
<rect x="197" y="831" width="1" height="3" fill="#000"/>
<rect x="261" y="831" width="1" height="3" fill="#000"/>
<rect x="325" y="831" width="1" height="3" fill="#000"/>
<rect x="389" y="831" width="1" height="3" fill="#000"/>
<rect x="453" y="831" width="1" height="3" fill="#000"/>
<rect x="517" y="831" width="1" height="3" fill="#000"/>
<rect x="581" y="831" width="1" height="3" fill="#000"/>
<rect x="645" y="831" width="1" height="3" fill="#000"/>
<rect x="709" y="831" width="1" height="3" fill="#000"/>
<rect x="773" y="831" width="1" height="3" fill="#000"/>
<rect x="837" y="831" width="1" height="3" fill="#000"/>
<rect x="901" y="831" width="1" height="3" fill="#000"/>
<rect x="965" y="831" width="1" height="3" fill="#000"/>
<rect x="1029" y="831" width="1" height="3" fill="#000"/>
<rect x="1093" y="831" width="1" height="3" fill="#000"/>
<rect x="1157" y="831" width="1" height="3" fill="#000"/>
<rect x="1221" y="831" width="1" height="3" fill="#000"/>
<rect x="1285" y="831" width="1" height="3" fill="#000"/>
</svg>
<svg width="1692" height="853" viewBox="0 0 1692 853"><line x1="1312.5" y1="229.5" x2="1349.5" y2="311.5" stroke="#4e9a2e" stroke-width="3.2"/><polygon points="1340.4,314.8 1356.6,307.4 1355.6,327.6" fill="#4e9a2e"/></svg>
<div class="t" style="left:20px;top:29px;">GBPUSD-,H4&nbsp; 1.25115 1.25135 1.25091 1.25092</div>
<div class="t" style="left:9px;top:592px;">MACD(12,26,9) -0.001579 0.000277</div>
<div class="t" style="left:9px;top:711px;">RSI(14) 33.1911</div>
<div class="ax" style="top:50px">1.26795</div>
<div class="ax" style="top:83px">1.26605</div>
<div class="ax" style="top:116px">1.26420</div>
<div class="ax" style="top:149px">1.26230</div>
<div class="ax" style="top:182px">1.26045</div>
<div class="ax" style="top:215px">1.25855</div>
<div class="ax" style="top:248px">1.25670</div>
<div class="ax" style="top:281px">1.25480</div>
<div class="ax" style="top:314px">1.25295</div>
<div class="ax" style="top:347px">1.25105</div>
<div class="ax" style="top:380px">1.24920</div>
<div class="ax" style="top:413px">1.24730</div>
<div class="ax" style="top:446px">1.24545</div>
<div class="ax" style="top:479px">1.24355</div>
<div class="ax" style="top:512px">1.24170</div>
<div class="ax" style="top:545px">1.23980</div>
<div class="ax" style="top:578px">1.23795</div>
<div class="ax" style="left:1648px;top:590px">0.003809</div>
<div class="ax" style="left:1648px;top:662px">0.00</div>
<div class="ax" style="left:1648px;top:693px">-0.001836</div>
<div class="ax" style="left:1647px;top:709px">100</div>
<div class="ax" style="left:1647px;top:728px">80</div>
<div class="ax" style="left:1647px;top:764px">50</div>
<div class="ax" style="left:1647px;top:807px">15</div>
<div class="ax" style="left:1647px;top:819px">0</div>
<div class="lb" style="top:254px;background:#ff0000">1.25623</div>
<div class="lb" style="top:288px;background:#ff0000">1.25430</div>
<div class="lb" style="top:327px;background:#ffa500">1.25209</div>
<div class="lb" style="top:349px;background:#000000">1.25092</div>
<div class="lb" style="top:388px;background:#0000ff">1.24863</div>
<div class="lb" style="top:425px;background:#0000ff">1.24653</div>
<div class="tm" style="left:4px">24 Apr 2023</div>
<div class="tm" style="left:68px">25 Apr 04:00</div>
<div class="tm" style="left:132px">25 Apr 20:00</div>
<div class="tm" style="left:196px">26 Apr 12:00</div>
<div class="tm" style="left:260px">27 Apr 04:00</div>
<div class="tm" style="left:324px">27 Apr 20:00</div>
<div class="tm" style="left:388px">28 Apr 12:00</div>
<div class="tm" style="left:452px">1 May 04:00</div>
<div class="tm" style="left:516px">1 May 20:00</div>
<div class="tm" style="left:580px">2 May 12:00</div>
<div class="tm" style="left:644px">3 May 04:00</div>
<div class="tm" style="left:708px">3 May 20:00</div>
<div class="tm" style="left:772px">4 May 12:00</div>
<div class="tm" style="left:836px">5 May 04:00</div>
<div class="tm" style="left:900px">7 May 23:00</div>
<div class="tm" style="left:964px">8 May 12:00</div>
<div class="tm" style="left:1028px">9 May 04:00</div>
<div class="tm" style="left:1092px">9 May 20:00</div>
<div class="tm" style="left:1156px">10 May 12:00</div>
<div class="tm" style="left:1220px">11 May 04:00</div>
<div class="tm" style="left:1284px">11 May 20:00</div>
</body></html>
